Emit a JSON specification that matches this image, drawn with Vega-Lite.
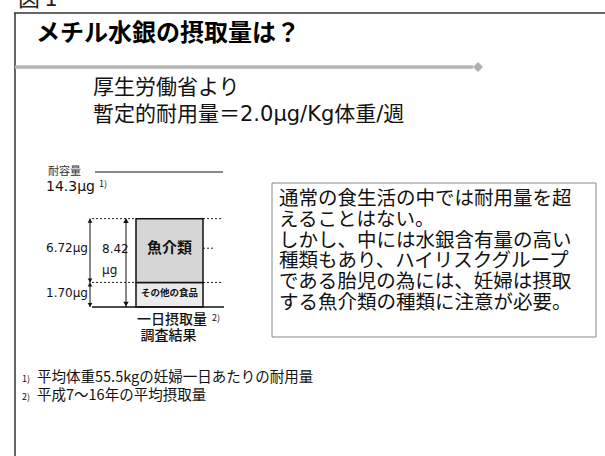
{
  "$schema": "https://vega.github.io/schema/vega-lite/v6.json",
  "width": 605,
  "height": 456,
  "autosize": "none",
  "padding": 0,
  "background": "white",
  "config": {"view": {"stroke": null}, "font": "Noto Sans CJK JP", "text": {"font": "Noto Sans CJK JP", "color": "#111"}},
  "datasets": {
    "内訳": [
      {"食品": "その他の食品", "下": 0, "上": 1.70, "ラベル": "1.70μg"},
      {"食品": "魚介類", "下": 1.70, "上": 8.42, "ラベル": "6.72μg"}
    ],
    "合計": [{"項目": "一日摂取量", "下": 0, "上": 8.42, "ラベル": "8.42\nμg"}],
    "耐容量": [{"項目": "耐容量", "値": 14.3, "ラベル": "14.3μg"}],
    "空": [{}]
  },
  "layer": [
    {
      "layer": [
        {
          "data": {"name": "空"},
          "mark": {"type": "rule", "stroke": "#333", "strokeWidth": 1.5},
          "encoding": {
            "x": {"datum": 14, "type": "quantitative", "scale": {"domain": [0, 605], "nice": false, "zero": false}, "axis": null},
            "x2": {"datum": 605},
            "y": {"datum": 13, "type": "quantitative", "scale": {"domain": [0, 456], "reverse": true, "nice": false, "zero": false}, "axis": null}
          }
        },
        {
          "data": {"name": "空"},
          "mark": {"type": "rule", "stroke": "#333", "strokeWidth": 1.5},
          "encoding": {
            "x": {"datum": 15, "type": "quantitative", "scale": {"domain": [0, 605], "nice": false, "zero": false}, "axis": null},
            "y": {"datum": 13, "type": "quantitative", "scale": {"domain": [0, 456], "reverse": true, "nice": false, "zero": false}, "axis": null},
            "y2": {"datum": 456}
          }
        },
        {
          "data": {"values": [{"文": "図 1"}]},
          "mark": {"type": "text", "align": "left", "baseline": "alphabetic", "fontSize": 22, "color": "#222"},
          "encoding": {
            "x": {"datum": 18, "type": "quantitative", "scale": {"domain": [0, 605], "nice": false, "zero": false}, "axis": null},
            "y": {"datum": 6, "type": "quantitative", "scale": {"domain": [0, 456], "reverse": true, "nice": false, "zero": false}, "axis": null},
            "text": {"field": "文"}
          }
        },
        {
          "data": {"values": [{"文": "メチル水銀の摂取量は？"}]},
          "mark": {"type": "text", "align": "left", "baseline": "middle", "fontSize": 24, "fontWeight": "bold", "color": "#000"},
          "encoding": {
            "x": {"datum": 36, "type": "quantitative", "scale": {"domain": [0, 605], "nice": false, "zero": false}, "axis": null},
            "y": {"datum": 34, "type": "quantitative", "scale": {"domain": [0, 456], "reverse": true, "nice": false, "zero": false}, "axis": null},
            "text": {"field": "文"}
          }
        },
        {
          "data": {"name": "空"},
          "mark": {"type": "rule", "stroke": "#b4b4b4", "strokeWidth": 3.5},
          "encoding": {
            "x": {"datum": 15, "type": "quantitative", "scale": {"domain": [0, 605], "nice": false, "zero": false}, "axis": null},
            "x2": {"datum": 473},
            "y": {"datum": 67, "type": "quantitative", "scale": {"domain": [0, 456], "reverse": true, "nice": false, "zero": false}, "axis": null}
          }
        },
        {
          "data": {"name": "空"},
          "mark": {"type": "point", "shape": "diamond", "filled": true, "size": 100, "color": "#b0b0b0", "opacity": 1},
          "encoding": {
            "x": {"datum": 478, "type": "quantitative", "scale": {"domain": [0, 605], "nice": false, "zero": false}, "axis": null},
            "y": {"datum": 67, "type": "quantitative", "scale": {"domain": [0, 456], "reverse": true, "nice": false, "zero": false}, "axis": null}
          }
        },
        {
          "data": {"values": [{"文": "厚生労働省より\n暫定的耐用量＝2.0μg/Kg体重/週"}]},
          "mark": {"type": "text", "align": "left", "baseline": "middle", "fontSize": 21, "font": "DejaVu Sans, Noto Sans CJK JP", "lineBreak": "\n", "lineHeight": 27, "color": "#111"},
          "encoding": {
            "x": {"datum": 93, "type": "quantitative", "scale": {"domain": [0, 605], "nice": false, "zero": false}, "axis": null},
            "y": {"datum": 88, "type": "quantitative", "scale": {"domain": [0, 456], "reverse": true, "nice": false, "zero": false}, "axis": null},
            "text": {"field": "文"}
          }
        },
        {
          "data": {"name": "空"},
          "mark": {"type": "rect", "fill": null, "stroke": "#888", "strokeWidth": 1},
          "encoding": {
            "x": {"datum": 272, "type": "quantitative", "scale": {"domain": [0, 605], "nice": false, "zero": false}, "axis": null},
            "x2": {"datum": 596},
            "y": {"datum": 183, "type": "quantitative", "scale": {"domain": [0, 456], "reverse": true, "nice": false, "zero": false}, "axis": null},
            "y2": {"datum": 337}
          }
        },
        {
          "data": {"values": [{"文": "通常の食生活の中では耐用量を超\nえることはない。\nしかし、中には水銀含有量の高い\n種類もあり、ハイリスクグループ\nである胎児の為には、妊婦は摂取\nする魚介類の種類に注意が必要。"}]},
          "mark": {"type": "text", "align": "left", "baseline": "middle", "fontSize": 19.5, "lineBreak": "\n", "lineHeight": 20.8, "color": "#111"},
          "encoding": {
            "x": {"datum": 279, "type": "quantitative", "scale": {"domain": [0, 605], "nice": false, "zero": false}, "axis": null},
            "y": {"datum": 199, "type": "quantitative", "scale": {"domain": [0, 456], "reverse": true, "nice": false, "zero": false}, "axis": null},
            "text": {"field": "文"}
          }
        },
        {
          "data": {"values": [{"文": "1)\n2)"}]},
          "mark": {"type": "text", "align": "left", "baseline": "middle", "fontSize": 9, "lineBreak": "\n", "lineHeight": 18, "color": "#111"},
          "encoding": {
            "x": {"datum": 22, "type": "quantitative", "scale": {"domain": [0, 605], "nice": false, "zero": false}, "axis": null},
            "y": {"datum": 379, "type": "quantitative", "scale": {"domain": [0, 456], "reverse": true, "nice": false, "zero": false}, "axis": null},
            "text": {"field": "文"}
          }
        },
        {
          "data": {"values": [{"文": "平均体重55.5kgの妊婦一日あたりの耐用量\n平成7～16年の平均摂取量"}]},
          "mark": {"type": "text", "align": "left", "baseline": "middle", "fontSize": 14.5, "lineBreak": "\n", "lineHeight": 18, "color": "#111"},
          "encoding": {
            "x": {"datum": 37, "type": "quantitative", "scale": {"domain": [0, 605], "nice": false, "zero": false}, "axis": null},
            "y": {"datum": 378, "type": "quantitative", "scale": {"domain": [0, 456], "reverse": true, "nice": false, "zero": false}, "axis": null},
            "text": {"field": "文"}
          }
        }
      ]
    },
    {
      "layer": [
        {
          "data": {"name": "内訳"},
          "mark": {"type": "rect", "stroke": "#111", "strokeWidth": 1.5},
          "encoding": {
            "x": {"datum": 136, "type": "quantitative", "scale": {"domain": [0, 605], "nice": false, "zero": false}, "axis": null},
            "x2": {"datum": 203},
            "y": {"field": "上", "type": "quantitative", "scale": {"type": "pow", "exponent": 0.8, "domain": [0, 14.3], "range": [307, 172], "nice": false, "zero": false}, "axis": null},
            "y2": {"field": "下"},
            "fill": {"field": "食品", "type": "nominal", "scale": {"domain": ["魚介類", "その他の食品"], "range": ["#d6d6d6", "#ebebeb"]}, "legend": null}
          }
        },
        {
          "data": {"name": "内訳"},
          "mark": {"type": "rule", "stroke": "#222", "strokeWidth": 1, "strokeDash": [2, 2]},
          "encoding": {
            "x": {"datum": 92, "type": "quantitative", "scale": {"domain": [0, 605], "nice": false, "zero": false}, "axis": null},
            "x2": {"datum": 136},
            "y": {"field": "上", "type": "quantitative", "scale": {"type": "pow", "exponent": 0.8, "domain": [0, 14.3], "range": [307, 172], "nice": false, "zero": false}, "axis": null}
          }
        },
        {
          "data": {"name": "内訳"},
          "mark": {"type": "rule", "stroke": "#222", "strokeWidth": 1, "strokeDash": [2, 2]},
          "encoding": {
            "x": {"datum": 203, "type": "quantitative", "scale": {"domain": [0, 605], "nice": false, "zero": false}, "axis": null},
            "x2": {"datum": 223},
            "y": {"field": "上", "type": "quantitative", "scale": {"type": "pow", "exponent": 0.8, "domain": [0, 14.3], "range": [307, 172], "nice": false, "zero": false}, "axis": null}
          }
        },
        {
          "data": {"name": "内訳"},
          "transform": [
            {"filter": "datum['食品'] === '魚介類'"},
            {"fold": ["下", "上"], "as": ["端", "値"]},
            {"aggregate": [{"op": "mean", "field": "値", "as": "中"}], "groupby": ["食品"]}
          ],
          "mark": {"type": "rule", "stroke": "#222", "strokeWidth": 1, "strokeDash": [2, 2]},
          "encoding": {
            "x": {"datum": 203, "type": "quantitative", "scale": {"domain": [0, 605], "nice": false, "zero": false}, "axis": null},
            "x2": {"datum": 214},
            "y": {"field": "中", "type": "quantitative", "scale": {"type": "pow", "exponent": 0.8, "domain": [0, 14.3], "range": [307, 172], "nice": false, "zero": false}, "axis": null}
          }
        },
        {
          "data": {"name": "空"},
          "mark": {"type": "rule", "stroke": "#111", "strokeWidth": 1.5},
          "encoding": {
            "x": {"datum": 92, "type": "quantitative", "scale": {"domain": [0, 605], "nice": false, "zero": false}, "axis": null},
            "x2": {"datum": 224},
            "y": {"datum": 0, "type": "quantitative", "scale": {"type": "pow", "exponent": 0.8, "domain": [0, 14.3], "range": [307, 172], "nice": false, "zero": false}, "axis": null}
          }
        },
        {
          "data": {"name": "内訳"},
          "mark": {"type": "rule", "stroke": "#111", "strokeWidth": 1},
          "encoding": {
            "x": {"datum": 90, "type": "quantitative", "scale": {"domain": [0, 605], "nice": false, "zero": false}, "axis": null},
            "y": {"field": "上", "type": "quantitative", "scale": {"type": "pow", "exponent": 0.8, "domain": [0, 14.3], "range": [307, 172], "nice": false, "zero": false}, "axis": null},
            "y2": {"field": "下"}
          }
        },
        {
          "data": {"name": "内訳"},
          "mark": {"type": "point", "shape": "triangle-up", "filled": true, "size": 22, "color": "#111", "opacity": 1, "yOffset": 2},
          "encoding": {
            "x": {"datum": 90, "type": "quantitative", "scale": {"domain": [0, 605], "nice": false, "zero": false}, "axis": null},
            "y": {"field": "上", "type": "quantitative", "scale": {"type": "pow", "exponent": 0.8, "domain": [0, 14.3], "range": [307, 172], "nice": false, "zero": false}, "axis": null}
          }
        },
        {
          "data": {"name": "内訳"},
          "mark": {"type": "point", "shape": "triangle-down", "filled": true, "size": 22, "color": "#111", "opacity": 1, "yOffset": -2},
          "encoding": {
            "x": {"datum": 90, "type": "quantitative", "scale": {"domain": [0, 605], "nice": false, "zero": false}, "axis": null},
            "y": {"field": "下", "type": "quantitative", "scale": {"type": "pow", "exponent": 0.8, "domain": [0, 14.3], "range": [307, 172], "nice": false, "zero": false}, "axis": null}
          }
        },
        {
          "data": {"name": "合計"},
          "mark": {"type": "rule", "stroke": "#111", "strokeWidth": 1},
          "encoding": {
            "x": {"datum": 126, "type": "quantitative", "scale": {"domain": [0, 605], "nice": false, "zero": false}, "axis": null},
            "y": {"field": "上", "type": "quantitative", "scale": {"type": "pow", "exponent": 0.8, "domain": [0, 14.3], "range": [307, 172], "nice": false, "zero": false}, "axis": null},
            "y2": {"field": "下"}
          }
        },
        {
          "data": {"name": "合計"},
          "mark": {"type": "point", "shape": "triangle-up", "filled": true, "size": 30, "color": "#111", "opacity": 1, "yOffset": 2},
          "encoding": {
            "x": {"datum": 126, "type": "quantitative", "scale": {"domain": [0, 605], "nice": false, "zero": false}, "axis": null},
            "y": {"field": "上", "type": "quantitative", "scale": {"type": "pow", "exponent": 0.8, "domain": [0, 14.3], "range": [307, 172], "nice": false, "zero": false}, "axis": null}
          }
        },
        {
          "data": {"name": "合計"},
          "mark": {"type": "point", "shape": "triangle-down", "filled": true, "size": 30, "color": "#111", "opacity": 1, "yOffset": -3},
          "encoding": {
            "x": {"datum": 126, "type": "quantitative", "scale": {"domain": [0, 605], "nice": false, "zero": false}, "axis": null},
            "y": {"field": "下", "type": "quantitative", "scale": {"type": "pow", "exponent": 0.8, "domain": [0, 14.3], "range": [307, 172], "nice": false, "zero": false}, "axis": null}
          }
        },
        {
          "data": {"name": "内訳"},
          "transform": [
            {"fold": ["下", "上"], "as": ["端", "値"]},
            {"aggregate": [{"op": "mean", "field": "値", "as": "中"}], "groupby": ["食品", "ラベル"]}
          ],
          "mark": {"type": "text", "align": "right", "baseline": "middle", "fontSize": 12, "font": "DejaVu Sans", "color": "#111"},
          "encoding": {
            "x": {"datum": 88, "type": "quantitative", "scale": {"domain": [0, 605], "nice": false, "zero": false}, "axis": null},
            "y": {"field": "中", "type": "quantitative", "scale": {"type": "pow", "exponent": 0.8, "domain": [0, 14.3], "range": [307, 172], "nice": false, "zero": false}, "axis": null},
            "text": {"field": "ラベル"}
          }
        },
        {
          "data": {"name": "合計"},
          "mark": {"type": "text", "align": "left", "baseline": "middle", "fontSize": 12, "font": "DejaVu Sans", "lineBreak": "\n", "lineHeight": 21, "dy": 30, "color": "#111"},
          "encoding": {
            "x": {"datum": 102, "type": "quantitative", "scale": {"domain": [0, 605], "nice": false, "zero": false}, "axis": null},
            "y": {"field": "上", "type": "quantitative", "scale": {"type": "pow", "exponent": 0.8, "domain": [0, 14.3], "range": [307, 172], "nice": false, "zero": false}, "axis": null},
            "text": {"field": "ラベル"}
          }
        },
        {
          "data": {"name": "内訳"},
          "transform": [
            {"filter": "datum['食品'] === '魚介類'"},
            {"fold": ["下", "上"], "as": ["端", "値"]},
            {"aggregate": [{"op": "mean", "field": "値", "as": "中"}], "groupby": ["食品"]}
          ],
          "mark": {"type": "text", "align": "center", "baseline": "middle", "fontSize": 15, "fontWeight": "bold", "color": "#111"},
          "encoding": {
            "x": {"datum": 169.5, "type": "quantitative", "scale": {"domain": [0, 605], "nice": false, "zero": false}, "axis": null},
            "y": {"field": "中", "type": "quantitative", "scale": {"type": "pow", "exponent": 0.8, "domain": [0, 14.3], "range": [307, 172], "nice": false, "zero": false}, "axis": null},
            "text": {"field": "食品"}
          }
        },
        {
          "data": {"name": "内訳"},
          "transform": [
            {"filter": "datum['食品'] === 'その他の食品'"},
            {"fold": ["下", "上"], "as": ["端", "値"]},
            {"aggregate": [{"op": "mean", "field": "値", "as": "中"}], "groupby": ["食品"]}
          ],
          "mark": {"type": "text", "align": "center", "baseline": "middle", "fontSize": 9.5, "fontWeight": "bold", "color": "#111"},
          "encoding": {
            "x": {"datum": 169.5, "type": "quantitative", "scale": {"domain": [0, 605], "nice": false, "zero": false}, "axis": null},
            "y": {"field": "中", "type": "quantitative", "scale": {"type": "pow", "exponent": 0.8, "domain": [0, 14.3], "range": [307, 172], "nice": false, "zero": false}, "axis": null},
            "text": {"field": "食品"}
          }
        },
        {
          "data": {"name": "耐容量"},
          "mark": {"type": "rule", "stroke": "#111", "strokeWidth": 1},
          "encoding": {
            "x": {"datum": 95, "type": "quantitative", "scale": {"domain": [0, 605], "nice": false, "zero": false}, "axis": null},
            "x2": {"datum": 223},
            "y": {"field": "値", "type": "quantitative", "scale": {"type": "pow", "exponent": 0.8, "domain": [0, 14.3], "range": [307, 172], "nice": false, "zero": false}, "axis": null}
          }
        },
        {
          "data": {"name": "耐容量"},
          "mark": {"type": "text", "align": "left", "baseline": "middle", "fontSize": 11, "color": "#333"},
          "encoding": {
            "x": {"datum": 48, "type": "quantitative", "scale": {"domain": [0, 605], "nice": false, "zero": false}, "axis": null},
            "y": {"field": "値", "type": "quantitative", "scale": {"type": "pow", "exponent": 0.8, "domain": [0, 14.3], "range": [307, 172], "nice": false, "zero": false}, "axis": null},
            "text": {"field": "項目"}
          }
        },
        {
          "data": {"name": "耐容量"},
          "mark": {"type": "text", "align": "left", "baseline": "middle", "fontSize": 14, "font": "DejaVu Sans", "dy": 15, "color": "#111"},
          "encoding": {
            "x": {"datum": 46, "type": "quantitative", "scale": {"domain": [0, 605], "nice": false, "zero": false}, "axis": null},
            "y": {"field": "値", "type": "quantitative", "scale": {"type": "pow", "exponent": 0.8, "domain": [0, 14.3], "range": [307, 172], "nice": false, "zero": false}, "axis": null},
            "text": {"field": "ラベル"}
          }
        },
        {
          "data": {"values": [{"文": "1)"}]},
          "mark": {"type": "text", "align": "left", "baseline": "middle", "fontSize": 9, "dy": 12, "color": "#111"},
          "encoding": {
            "x": {"datum": 99, "type": "quantitative", "scale": {"domain": [0, 605], "nice": false, "zero": false}, "axis": null},
            "y": {"datum": 14.3, "type": "quantitative", "scale": {"type": "pow", "exponent": 0.8, "domain": [0, 14.3], "range": [307, 172], "nice": false, "zero": false}, "axis": null},
            "text": {"field": "文"}
          }
        },
        {
          "data": {"values": [{"文": "一日摂取量"}]},
          "mark": {"type": "text", "align": "left", "baseline": "middle", "fontSize": 14, "fontWeight": 500, "dy": 13, "color": "#111"},
          "encoding": {
            "x": {"datum": 137, "type": "quantitative", "scale": {"domain": [0, 605], "nice": false, "zero": false}, "axis": null},
            "y": {"datum": 0, "type": "quantitative", "scale": {"type": "pow", "exponent": 0.8, "domain": [0, 14.3], "range": [307, 172], "nice": false, "zero": false}, "axis": null},
            "text": {"field": "文"}
          }
        },
        {
          "data": {"values": [{"文": "2)"}]},
          "mark": {"type": "text", "align": "left", "baseline": "middle", "fontSize": 9, "dy": 11, "color": "#111"},
          "encoding": {
            "x": {"datum": 212, "type": "quantitative", "scale": {"domain": [0, 605], "nice": false, "zero": false}, "axis": null},
            "y": {"datum": 0, "type": "quantitative", "scale": {"type": "pow", "exponent": 0.8, "domain": [0, 14.3], "range": [307, 172], "nice": false, "zero": false}, "axis": null},
            "text": {"field": "文"}
          }
        },
        {
          "data": {"values": [{"文": "調査結果"}]},
          "mark": {"type": "text", "align": "center", "baseline": "middle", "fontSize": 14, "fontWeight": 500, "dy": 29, "color": "#111"},
          "encoding": {
            "x": {"datum": 168.5, "type": "quantitative", "scale": {"domain": [0, 605], "nice": false, "zero": false}, "axis": null},
            "y": {"datum": 0, "type": "quantitative", "scale": {"type": "pow", "exponent": 0.8, "domain": [0, 14.3], "range": [307, 172], "nice": false, "zero": false}, "axis": null},
            "text": {"field": "文"}
          }
        }
      ]
    }
  ],
  "resolve": {"scale": {"y": "independent"}}
}
